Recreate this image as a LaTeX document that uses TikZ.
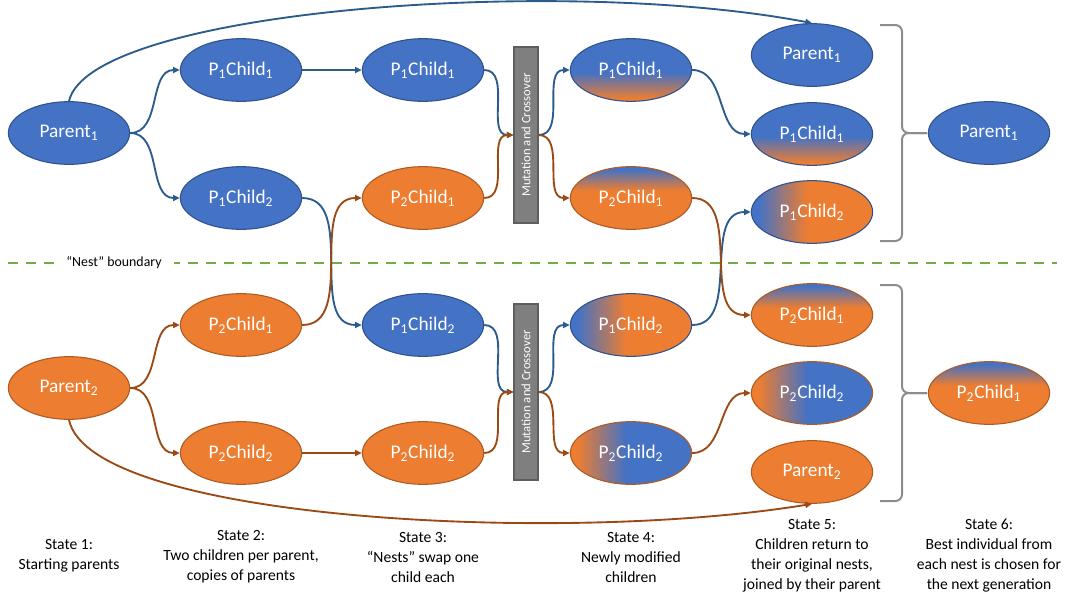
\documentclass[tikz,border=0pt]{standalone}
\usepackage{fontspec}
\setmainfont{Carlito}
\usepackage{graphicx}
\usetikzlibrary{shapes.geometric,arrows.meta}
\definecolor{cblue}{HTML}{4472C4}
\definecolor{cblueb}{HTML}{2F528F}
\definecolor{corange}{HTML}{ED7D31}
\definecolor{coranb}{HTML}{AE5A21}
\definecolor{ablue}{HTML}{2B5C8C}
\definecolor{abrown}{HTML}{9C4A14}
\definecolor{cgray}{HTML}{7F7F7F}
\definecolor{cgrayb}{HTML}{5E5E5E}
\definecolor{cbrace}{HTML}{8C8C8C}
\definecolor{cgreen}{HTML}{70AD47}
\pgfdeclareverticalshading{vbo}{100bp}{color(0bp)=(corange); color(27bp)=(corange); color(48bp)=(cblue); color(100bp)=(cblue)}
\pgfdeclareverticalshading{vob}{100bp}{color(0bp)=(corange); color(56bp)=(corange); color(73bp)=(cblue); color(100bp)=(cblue)}
\pgfdeclarehorizontalshading{hbo}{100bp}{color(0bp)=(cblue); color(28bp)=(cblue); color(48bp)=(corange); color(100bp)=(corange)}
\pgfdeclarehorizontalshading{hob}{100bp}{color(0bp)=(corange); color(28bp)=(corange); color(48bp)=(cblue); color(100bp)=(cblue)}
\newcommand{\PCh}[2]{P\textsubscript{#1}Child\textsubscript{#2}}
\newcommand{\Prt}[1]{Parent\textsubscript{#1}}
\begin{document}
\begin{tikzpicture}[x=0.75pt,y=-0.75pt,
  ell/.style={ellipse, minimum width=91pt, minimum height=47pt, inner sep=0pt, text=white, line width=0.8pt, font=\fontsize{14.5}{17}\selectfont},
  bl/.style={ell, fill=cblue, draw=cblueb},
  og/.style={ell, fill=corange, draw=coranb},
  gr/.style 2 args={ell, shade, shading=#1, draw=#2},
  bar/.style={rectangle, minimum width=18pt, minimum height=132pt, inner sep=0pt, fill=cgray, draw=cgrayb, line width=0.8pt, text=white, font=\fontsize{9.5}{11}\selectfont},
  ab/.style={draw=ablue, line width=1.4pt, -{Triangle[length=5pt,width=4.5pt]}},
  ob/.style={draw=abrown, line width=1.4pt, -{Triangle[length=5pt,width=4.5pt]}},
  brace/.style={draw=cbrace, line width=1.5pt, rounded corners=5pt},
  nest/.style={draw=cgreen, line width=1.6pt, dash pattern=on 7.5pt off 6pt},
  capt/.style={align=center, font=\fontsize{11.7}{15}\selectfont, text=black, inner sep=0pt}
]
\useasboundingbox (0,0) rectangle (1065,596);

% nest boundary
\coordinate (n1) at (8,263);
\coordinate (n2) at (1057,263);
\draw[nest] (n1) -- (n2);
\node[fill=white, inner xsep=9pt, inner ysep=2pt, font=\fontsize{10.4}{12}\selectfont] (nb) at (114,263) {“Nest” boundary};

% state 1
\node[bl] (p1) at (69,133) {\Prt{1}};
\node[og] (p2) at (69,388) {\Prt{2}};
% state 2
\node[bl] (a1) at (241,70) {\PCh{1}{1}};
\node[bl] (a2) at (241,198) {\PCh{1}{2}};
\node[og] (a3) at (241,325) {\PCh{2}{1}};
\node[og] (a4) at (241,453) {\PCh{2}{2}};
% state 3
\node[bl] (b1) at (423,70) {\PCh{1}{1}};
\node[og] (b2) at (423,198) {\PCh{2}{1}};
\node[bl] (b3) at (423,325) {\PCh{1}{2}};
\node[og] (b4) at (423,453) {\PCh{2}{2}};
% bars
\node[bar] (m1) at (526,135) {\rotatebox{90}{Mutation and Crossover}};
\node[bar] (m2) at (526,392) {\rotatebox{90}{Mutation and Crossover}};
% state 4
\node[gr={vbo}{cblueb}] (c1) at (631,70) {\PCh{1}{1}};
\node[gr={vob}{coranb}] (c2) at (631,198) {\PCh{2}{1}};
\node[gr={hbo}{cblueb}] (c3) at (631,325) {\PCh{1}{2}};
\node[gr={hob}{coranb}] (c4) at (631,453) {\PCh{2}{2}};
% state 5
\node[bl] (d1) at (812,55) {\Prt{1}};
\node[gr={vbo}{cblueb}] (d2) at (812,134) {\PCh{1}{1}};
\node[gr={hbo}{cblueb}] (d3) at (812,212) {\PCh{1}{2}};
\node[gr={vob}{coranb}] (d4) at (812,315) {\PCh{2}{1}};
\node[gr={hob}{coranb}] (d5) at (812,393) {\PCh{2}{2}};
\node[og] (d6) at (812,472) {\Prt{2}};
% state 6
\node[bl] (e1) at (989,133) {\Prt{1}};
\node[gr={vob}{coranb}] (e2) at (989,393) {\PCh{2}{1}};

% braces
\draw[brace] (880,25) -- (902,25) -- (902,133) -- (927,133);
\draw[brace] (927,133) -- (902,133) -- (902,241) -- (880,241);
\draw[brace] (880,285) -- (902,285) -- (902,393) -- (927,393);
\draw[brace] (927,393) -- (902,393) -- (902,501) -- (880,501);

% blue connectors
\draw[ab] (p1.north) .. controls (90,10) and (560,-25) .. (d1.north);
\draw[ab] (p1.east) to[out=0,in=180] (a1.west);
\draw[ab] (p1.east) to[out=0,in=180] (a2.west);
\draw[ab] (a1.east) -- (b1.west);
\draw[ab] (a2.east) to[out=0,in=180] (b3.west);
\draw[ab] (b1.east) to[out=0,in=180] (m1.west);
\draw[ab] (b3.east) to[out=0,in=180] (m2.west);
\draw[ab] (m1.east) to[out=0,in=180] (c1.west);
\draw[ab] (m2.east) to[out=0,in=180] (c3.west);
\draw[ab] (c1.east) to[out=0,in=180] (d2.west);
\draw[ab] (c3.east) to[out=0,in=180] (d3.west);
% brown connectors
\draw[ob] (p2.south) .. controls (90,520) and (560,545) .. (d6.south);
\draw[ob] (p2.east) to[out=0,in=180] (a3.west);
\draw[ob] (p2.east) to[out=0,in=180] (a4.west);
\draw[ob] (a3.east) to[out=0,in=180] (b2.west);
\draw[ob] (a4.east) -- (b4.west);
\draw[ob] (b2.east) to[out=0,in=180] (m1.west);
\draw[ob] (b4.east) to[out=0,in=180] (m2.west);
\draw[ob] (m1.east) to[out=0,in=180] (c2.west);
\draw[ob] (m2.east) to[out=0,in=180] (c4.west);
\draw[ob] (c2.east) to[out=0,in=180] (d4.west);
\draw[ob] (c4.east) to[out=0,in=180] (d5.west);

% captions
\node[capt] (s1) at (69,556) {State 1:\\Starting parents};
\node[capt] (s2) at (241,557) {State 2:\\Two children per parent,\\copies of parents};
\node[capt] (s3) at (423,557) {State 3:\\“Nests” swap one\\child each};
\node[capt] (s4) at (631,557) {State 4:\\Newly modified\\children};
\node[capt] (s5) at (812,556) {State 5:\\Children return to\\their original nests,\\joined by their parent};
\node[capt] (s6) at (989,556) {State 6:\\Best individual from\\each nest is chosen for\\the next generation};
\end{tikzpicture}
\end{document}
